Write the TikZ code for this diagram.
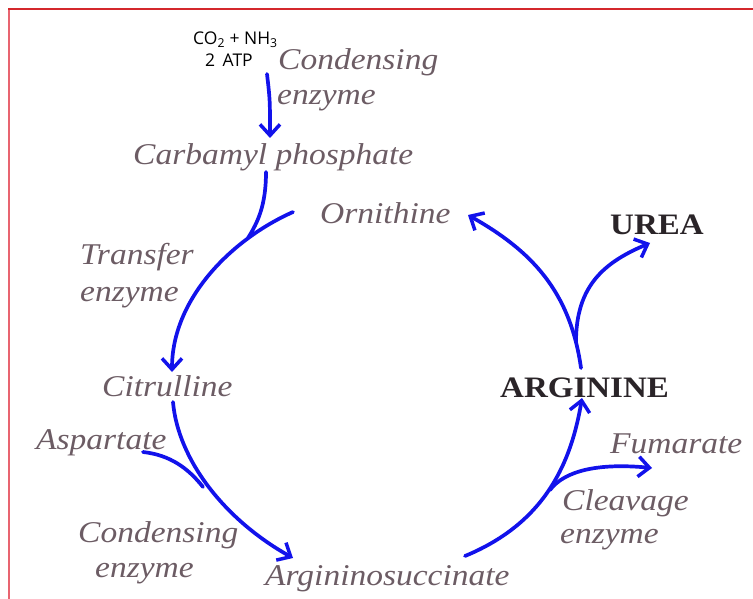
\documentclass[tikz,border=0pt]{standalone}
\usepackage{fontspec}
\setmainfont{Liberation Serif}
\newfontfamily\formulafont{Open Sans}
\usetikzlibrary{arrows.meta}

\definecolor{framered}{RGB}{212,40,44}
\definecolor{framepink}{RGB}{232,100,112}
\definecolor{pathblue}{RGB}{18,18,235}
\definecolor{namegray}{RGB}{108,92,100}
\definecolor{keydark}{RGB}{42,36,40}

% slightly condensed vertical proportion for the labels
\newcommand{\squash}[1]{\scalebox{1}[0.9]{#1}}

\tikzset{
  compound/.style={anchor=base west, inner sep=0pt, text=namegray,
    font=\itshape\fontsize{33.5}{34}\selectfont},
  keyword/.style={anchor=base west, inner sep=0pt, text=keydark,
    font=\bfseries\fontsize{33}{34}\selectfont},
  formula/.style={anchor=base west, inner sep=0pt, text=black,
    font=\formulafont\fontsize{17.5}{18}\selectfont},
  flow/.style={draw=pathblue, line width=3.7pt, line cap=round},
  flowarrow/.style={flow, -{Straight Barb[length=11pt,width=20pt,line width=3.5pt]}}
}

\begin{document}
\begin{tikzpicture}[x=1pt,y=-1pt]
\useasboundingbox (0,0) rectangle (753,599);

% frame
\draw[framepink, line width=2pt] (9,610) -- (9,9.5);
\draw[framered, line width=2pt] (8,9.5) -- (760,9.5);

% labels
\node[formula] (co2) at (193,45) {CO\textsubscript{2} + NH\textsubscript{3}};
\node[formula] (atp) at (205,67) {2\, ATP};
\node[compound] (cond1) at (278,70) {\squash{Condensing}};
\node[compound] (enz1) at (277,105) {\squash{enzyme}};
\node[compound] (carb) at (133,165) {\squash{Carbamyl phosphate}};
\node[compound] (orn) at (320,223) {\squash{Ornithine}};
\node[compound] (transfer) at (80,264) {\squash{Transfer}};
\node[compound] (enz2) at (80,301) {\squash{enzyme}};
\node[compound] (cit) at (102,396) {\squash{Citrulline}};
\node[compound] (asp) at (36,449) {\squash{Aspartate}};
\node[compound] (cond2) at (78,542) {\squash{Condensing}};
\node[compound] (enz3) at (95,577) {\squash{enzyme}};
\node[compound] (argsuc) at (265,585) {\squash{Argininosuccinate}};
\node[keyword] (arg) at (500,397) {\squash{ARGININE}};
\node[keyword] (urea) at (610,235) {\squash{UREA}};
\node[compound] (fum) at (610,453) {\squash{Fumarate}};
\node[compound] (cleav) at (562,510) {\squash{Cleavage}};
\node[compound] (enz4) at (560,543) {\squash{enzyme}};

% path end points
\coordinate (atpout) at (267,74);
\coordinate (carbin) at (270,138);
\coordinate (carbout) at (266,172);
\coordinate (ornout) at (293,212);
\coordinate (mergeA) at (248,238);
\coordinate (citin) at (172,372);
\coordinate (citout) at (173,402);
\coordinate (aspout) at (143,452);
\coordinate (mergeB) at (203,487);
\coordinate (sucin) at (293,558);
\coordinate (sucout) at (465,556);
\coordinate (splitC) at (550,490);
\coordinate (fumin) at (652,468);
\coordinate (argin) at (582,398);
\coordinate (argout) at (581,368);
\coordinate (splitD) at (576,342);
\coordinate (ornin) at (468,215);
\coordinate (ureain) at (650,243);

% CO2 + NH3 -> carbamyl phosphate
\draw[flowarrow] (atpout) .. controls (270,100) .. (carbin);
% carbamyl phosphate joins ornithine
\draw[flow] (carbout) .. controls (266,205) and (258,222) .. (mergeA);
% ornithine -> citrulline
\draw[flowarrow] (ornout) .. controls (230,240) and (172,300) .. (citin);
% aspartate joins citrulline
\draw[flow] (aspout) .. controls (170,455) and (188,468) .. (mergeB);
% citrulline -> argininosuccinate
\draw[flowarrow] (citout) .. controls (178,460) and (225,520) .. (sucin);
% argininosuccinate -> arginine
\draw[flowarrow] (sucout) .. controls (540,525) and (570,470) .. (argin);
% fumarate released
\draw[flowarrow] (splitC) .. controls (565,470) and (600,463) .. (fumin);
% arginine -> ornithine
\draw[flowarrow] (argout) .. controls (570,290) and (530,250) .. (ornin);
% urea released
\draw[flowarrow] (splitD) .. controls (576,285) and (605,262) .. (ureain);
\end{tikzpicture}
\end{document}
